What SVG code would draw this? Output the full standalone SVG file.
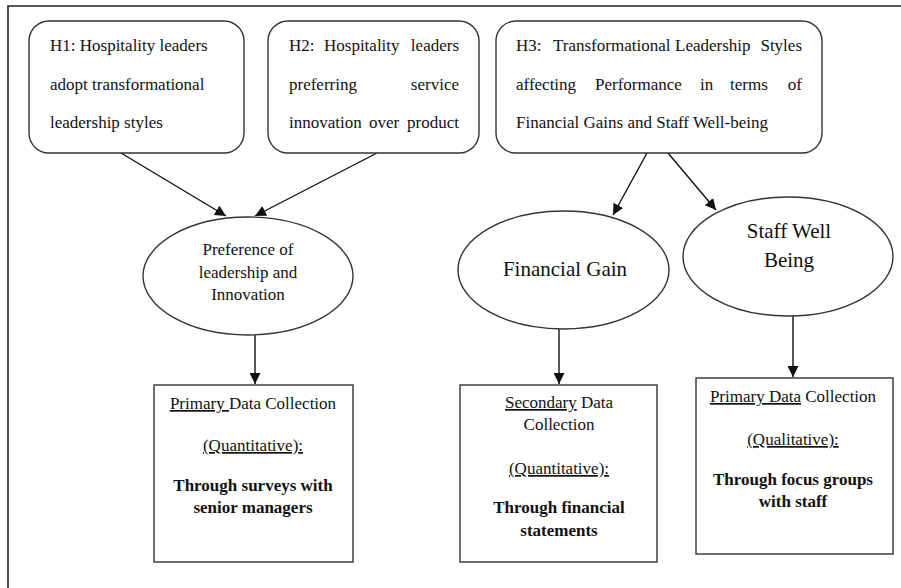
<svg xmlns="http://www.w3.org/2000/svg" width="901" height="588" viewBox="0 0 901 588" font-family="'Liberation Serif', 'Times New Roman', 'DejaVu Serif', serif">
<style>
text{font-size:17px;fill:#111}
.shape{fill:#fff;stroke:#333;stroke-width:1.4}
.conn{stroke:#111;stroke-width:1.4;fill:none;marker-end:url(#ah)}
.c{text-anchor:middle}
.e{text-anchor:end}
.b{font-weight:bold}
.u{text-decoration:underline}
.big{font-size:21px}
</style>
<defs>
<marker id="ah" markerUnits="userSpaceOnUse" markerWidth="12" markerHeight="11" refX="11" refY="5.5" orient="auto">
<path d="M0,0 L11,5.5 L0,11 z" fill="#111"/>
</marker>
</defs>
<rect width="901" height="588" fill="#fff"/>
<g id="frame">
<path d="M8,588 L8,6 L901,6" fill="none" stroke="#222" stroke-width="1.6"/>
</g>
<g id="connectors">
<line class="conn" x1="121" y1="153" x2="226" y2="216"/>
<line class="conn" x1="377" y1="153" x2="255" y2="216"/>
<line class="conn" x1="255" y1="335" x2="255" y2="384"/>
<line class="conn" x1="647" y1="153" x2="613" y2="215"/>
<line class="conn" x1="668" y1="153" x2="716" y2="210"/>
<line class="conn" x1="559" y1="329" x2="559" y2="384"/>
<line class="conn" x1="793" y1="316" x2="793" y2="377"/>
</g>
<g id="h1">
<rect class="shape" x="29" y="21" width="215" height="132" rx="20"/>
<text x="50" y="51">H1: Hospitality leaders</text>
<text x="50" y="89.5">adopt transformational</text>
<text x="50" y="128">leadership styles</text>
</g>
<g id="h2">
<rect class="shape" x="268" y="21" width="211" height="132" rx="20"/>
<text x="289" y="51">H2:</text>
<text x="324" y="51">Hospitality</text>
<text class="e" x="459" y="51">leaders</text>
<text x="289" y="89.5">preferring</text>
<text class="e" x="459" y="89.5">service</text>
<text x="289" y="128">innovation</text>
<text x="369" y="128">over</text>
<text class="e" x="459" y="128">product</text>
</g>
<g id="h3">
<rect class="shape" x="496" y="21" width="326" height="132" rx="20"/>
<text x="516" y="51">H3:</text>
<text x="553" y="51">Transformational</text>
<text x="675" y="51">Leadership</text>
<text class="e" x="802" y="51">Styles</text>
<text x="516" y="89.5">affecting</text>
<text x="595" y="89.5">Performance</text>
<text x="700" y="89.5">in</text>
<text x="730" y="89.5">terms</text>
<text class="e" x="802" y="89.5">of</text>
<text x="516" y="128">Financial Gains and Staff Well-being</text>
</g>
<g id="pref">
<ellipse class="shape" cx="248" cy="276" rx="105" ry="59"/>
<text class="c" x="248" y="255">Preference of</text>
<text class="c" x="248" y="278">leadership and</text>
<text class="c" x="248" y="300">Innovation</text>
</g>
<g id="fingain">
<ellipse class="shape" cx="563.5" cy="270" rx="105.5" ry="59"/>
<text class="c big" x="565" y="276">Financial Gain</text>
</g>
<g id="staff">
<ellipse class="shape" cx="788" cy="256.5" rx="105" ry="59.5"/>
<text class="c big" x="789" y="238">Staff Well</text>
<text class="c big" x="789" y="267">Being</text>
</g>
<g id="box1">
<rect class="shape" x="154" y="385" width="199" height="177"/>
<text class="c" x="253" y="409"><tspan class="u">Primary </tspan>Data Collection</text>
<text class="c u" x="253" y="451">(Quantitative):</text>
<text class="c b" x="253" y="491">Through surveys with</text>
<text class="c b" x="253" y="513">senior managers</text>
</g>
<g id="box2">
<rect class="shape" x="460" y="385" width="197" height="177"/>
<text class="c" x="559" y="408"><tspan class="u">Secondary</tspan> Data</text>
<text class="c" x="559" y="430">Collection</text>
<text class="c u" x="559" y="474">(Quantitative):</text>
<text class="c b" x="559" y="513">Through financial</text>
<text class="c b" x="559" y="536">statements</text>
</g>
<g id="box3">
<rect class="shape" x="696" y="378" width="197" height="176"/>
<text class="c" x="793" y="402"><tspan class="u">Primary Data</tspan> Collection</text>
<text class="c u" x="793" y="445">(Qualitative):</text>
<text class="c b" x="793" y="485">Through focus groups</text>
<text class="c b" x="793" y="507">with staff</text>
</g>
</svg>
